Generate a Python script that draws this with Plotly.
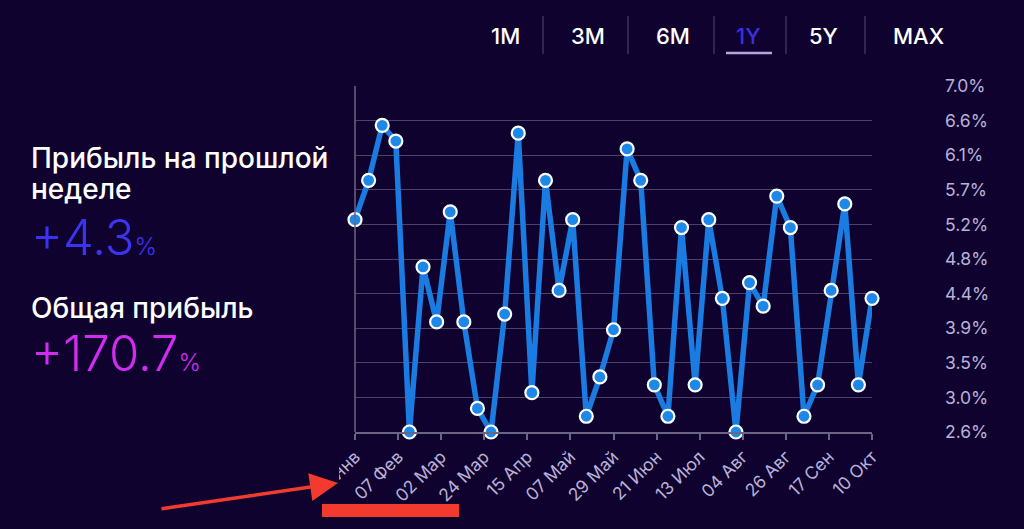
import plotly.graph_objects as go

# ---- data ----
values = [5.3, 5.8, 6.5, 6.3, 2.6, 4.7, 4.0, 5.4, 4.0, 2.9, 2.6, 4.1, 6.4, 3.1,
          5.8, 4.4, 5.3, 2.8, 3.3, 3.9, 6.2, 5.8, 3.2, 2.8, 5.2, 3.2, 5.3, 4.3,
          2.6, 4.5, 4.2, 5.6, 5.2, 2.8, 3.2, 4.4, 5.5, 3.2, 4.3]
x_labels = ["16 Янв", "07 Фев", "02 Мар", "24 Мар", "15 Апр", "07 Май", "29 Май",
            "21 Июн", "13 Июл", "04 Авг", "26 Авг", "17 Сен", "10 Окт"]
y_tickvals = [2.6, 3.04, 3.48, 3.92, 4.36, 4.8, 5.24, 5.68, 6.12, 6.56, 7.0]
y_ticktext = ["2.6%", "3.0%", "3.5%", "3.9%", "4.4%", "4.8%", "5.2%", "5.7%",
              "6.1%", "6.6%", "7.0%"]
periods = ["1M", "3M", "6M", "1Y", "5Y", "MAX"]
active_period = "1Y"

W, H = 1024, 529
L, R, T, B = 355, 872, 86, 432   # plot area in pixels
BG = "#10022f"
FONT = "Inter"

def px(xp):
    return (xp - L) / (R - L)

def py(yp):
    return (B - yp) / (B - T)

n = len(values)
xs = list(range(n))
span = n - 1
tickvals = [i * span / (len(x_labels) - 1) for i in range(len(x_labels))]

fig = go.Figure()
fig.add_trace(go.Scatter(
    x=xs, y=values, mode="lines+markers",
    line=dict(color="#1a7ce0", width=5.5),
    marker=dict(size=13, color="#1e88e8", line=dict(color="white", width=2.2)),
    cliponaxis=False, hoverinfo="skip", showlegend=False,
))

fig.update_layout(
    width=W, height=H,
    margin=dict(l=L, r=W - R, t=T, b=H - B, pad=0),
    paper_bgcolor=BG, plot_bgcolor=BG,
    font=dict(family=FONT, color="#b9b1d9", size=17),
    xaxis=dict(range=[0, span], tickvals=tickvals, ticktext=x_labels,
               tickangle=-45, showgrid=False, zeroline=False,
               showline=True, linecolor="#6c6484", linewidth=1.5,
               ticks="outside", ticklen=6, tickcolor="#6c6484", tickwidth=1.5,
               tickfont=dict(size=17.5, color="#b9b1d9")),
    yaxis=dict(range=[2.6, 7.0], tickvals=y_tickvals, ticktext=y_ticktext,
               side="right", showgrid=True, gridcolor="#4b4169", gridwidth=1.2,
               zeroline=False, showline=False, ticklabelstandoff=72,
               tickfont=dict(size=17.5, color="#b9b1d9")),
)

shapes = []
# left axis line
shapes.append(dict(type="line", xref="paper", yref="paper", x0=0, x1=0, y0=0, y1=1,
                   line=dict(color="#6c6484", width=1.5)))
# cover clipping the first x label (chart container edge)
shapes.append(dict(type="rect", xref="paper", yref="paper", x0=px(0), x1=px(339),
                   y0=py(H), y1=py(B + 3), fillcolor=BG, line=dict(width=0), layer="above"))
# red highlight bar
shapes.append(dict(type="rect", xref="paper", yref="paper", x0=px(322), x1=px(459),
                   y0=py(517), y1=py(504), fillcolor="#f23b2e", line=dict(width=0), layer="above"))

annotations = []
# period buttons
btn_x = [505, 588, 673, 748, 823, 918]
sep_x = [543, 628, 714, 786, 865]
for label, bx in zip(periods, btn_x):
    annotations.append(dict(text=label, x=px(bx), y=py(36), xref="paper", yref="paper",
                            showarrow=False, xanchor="center", yanchor="middle",
                            font=dict(family=FONT, size=22, weight=500,
                                      color="#3a2fe0" if label == active_period else "white")))
for sx in sep_x:
    shapes.append(dict(type="line", xref="paper", yref="paper", x0=px(sx), x1=px(sx),
                       y0=py(54), y1=py(16), line=dict(color="#3e3160", width=1.5)))
shapes.append(dict(type="line", xref="paper", yref="paper", x0=px(726), x1=px(772),
                   y0=py(53), y1=py(53), line=dict(color="#b3a6e0", width=2.5)))

# left text block
def left_text(text, ycenter, size, weight, color):
    annotations.append(dict(text=text, x=px(29), y=py(ycenter), xref="paper", yref="paper",
                            showarrow=False, align="left", xanchor="left", yanchor="middle",
                            font=dict(family=FONT, size=size, weight=weight, color=color)))

left_text("Прибыль на прошлой", 158, 28, 500, "white")
left_text("неделе", 189, 28, 500, "white")
left_text("+4.3<span style='font-size:24px'>%</span>", 237, 49, 300, "#3d32f2")
left_text("Общая прибыль", 308, 28, 500, "white")
left_text("+170.7<span style='font-size:24px'>%</span>", 353, 49, 300, "#d22cf2")

# red arrow
annotations.append(dict(text="", x=px(338), y=py(483), xref="paper", yref="paper",
                        showarrow=True, ax=160 - 338, ay=509 - 483, axref="pixel", ayref="pixel",
                        arrowhead=2, arrowsize=1.6, arrowwidth=3.5, arrowcolor="#f23b2e"))

fig.update_layout(shapes=shapes, annotations=annotations)
fig.write_html("out.html", config={"displayModeBar": False},
               post_script="document.body.style.margin='0';")
